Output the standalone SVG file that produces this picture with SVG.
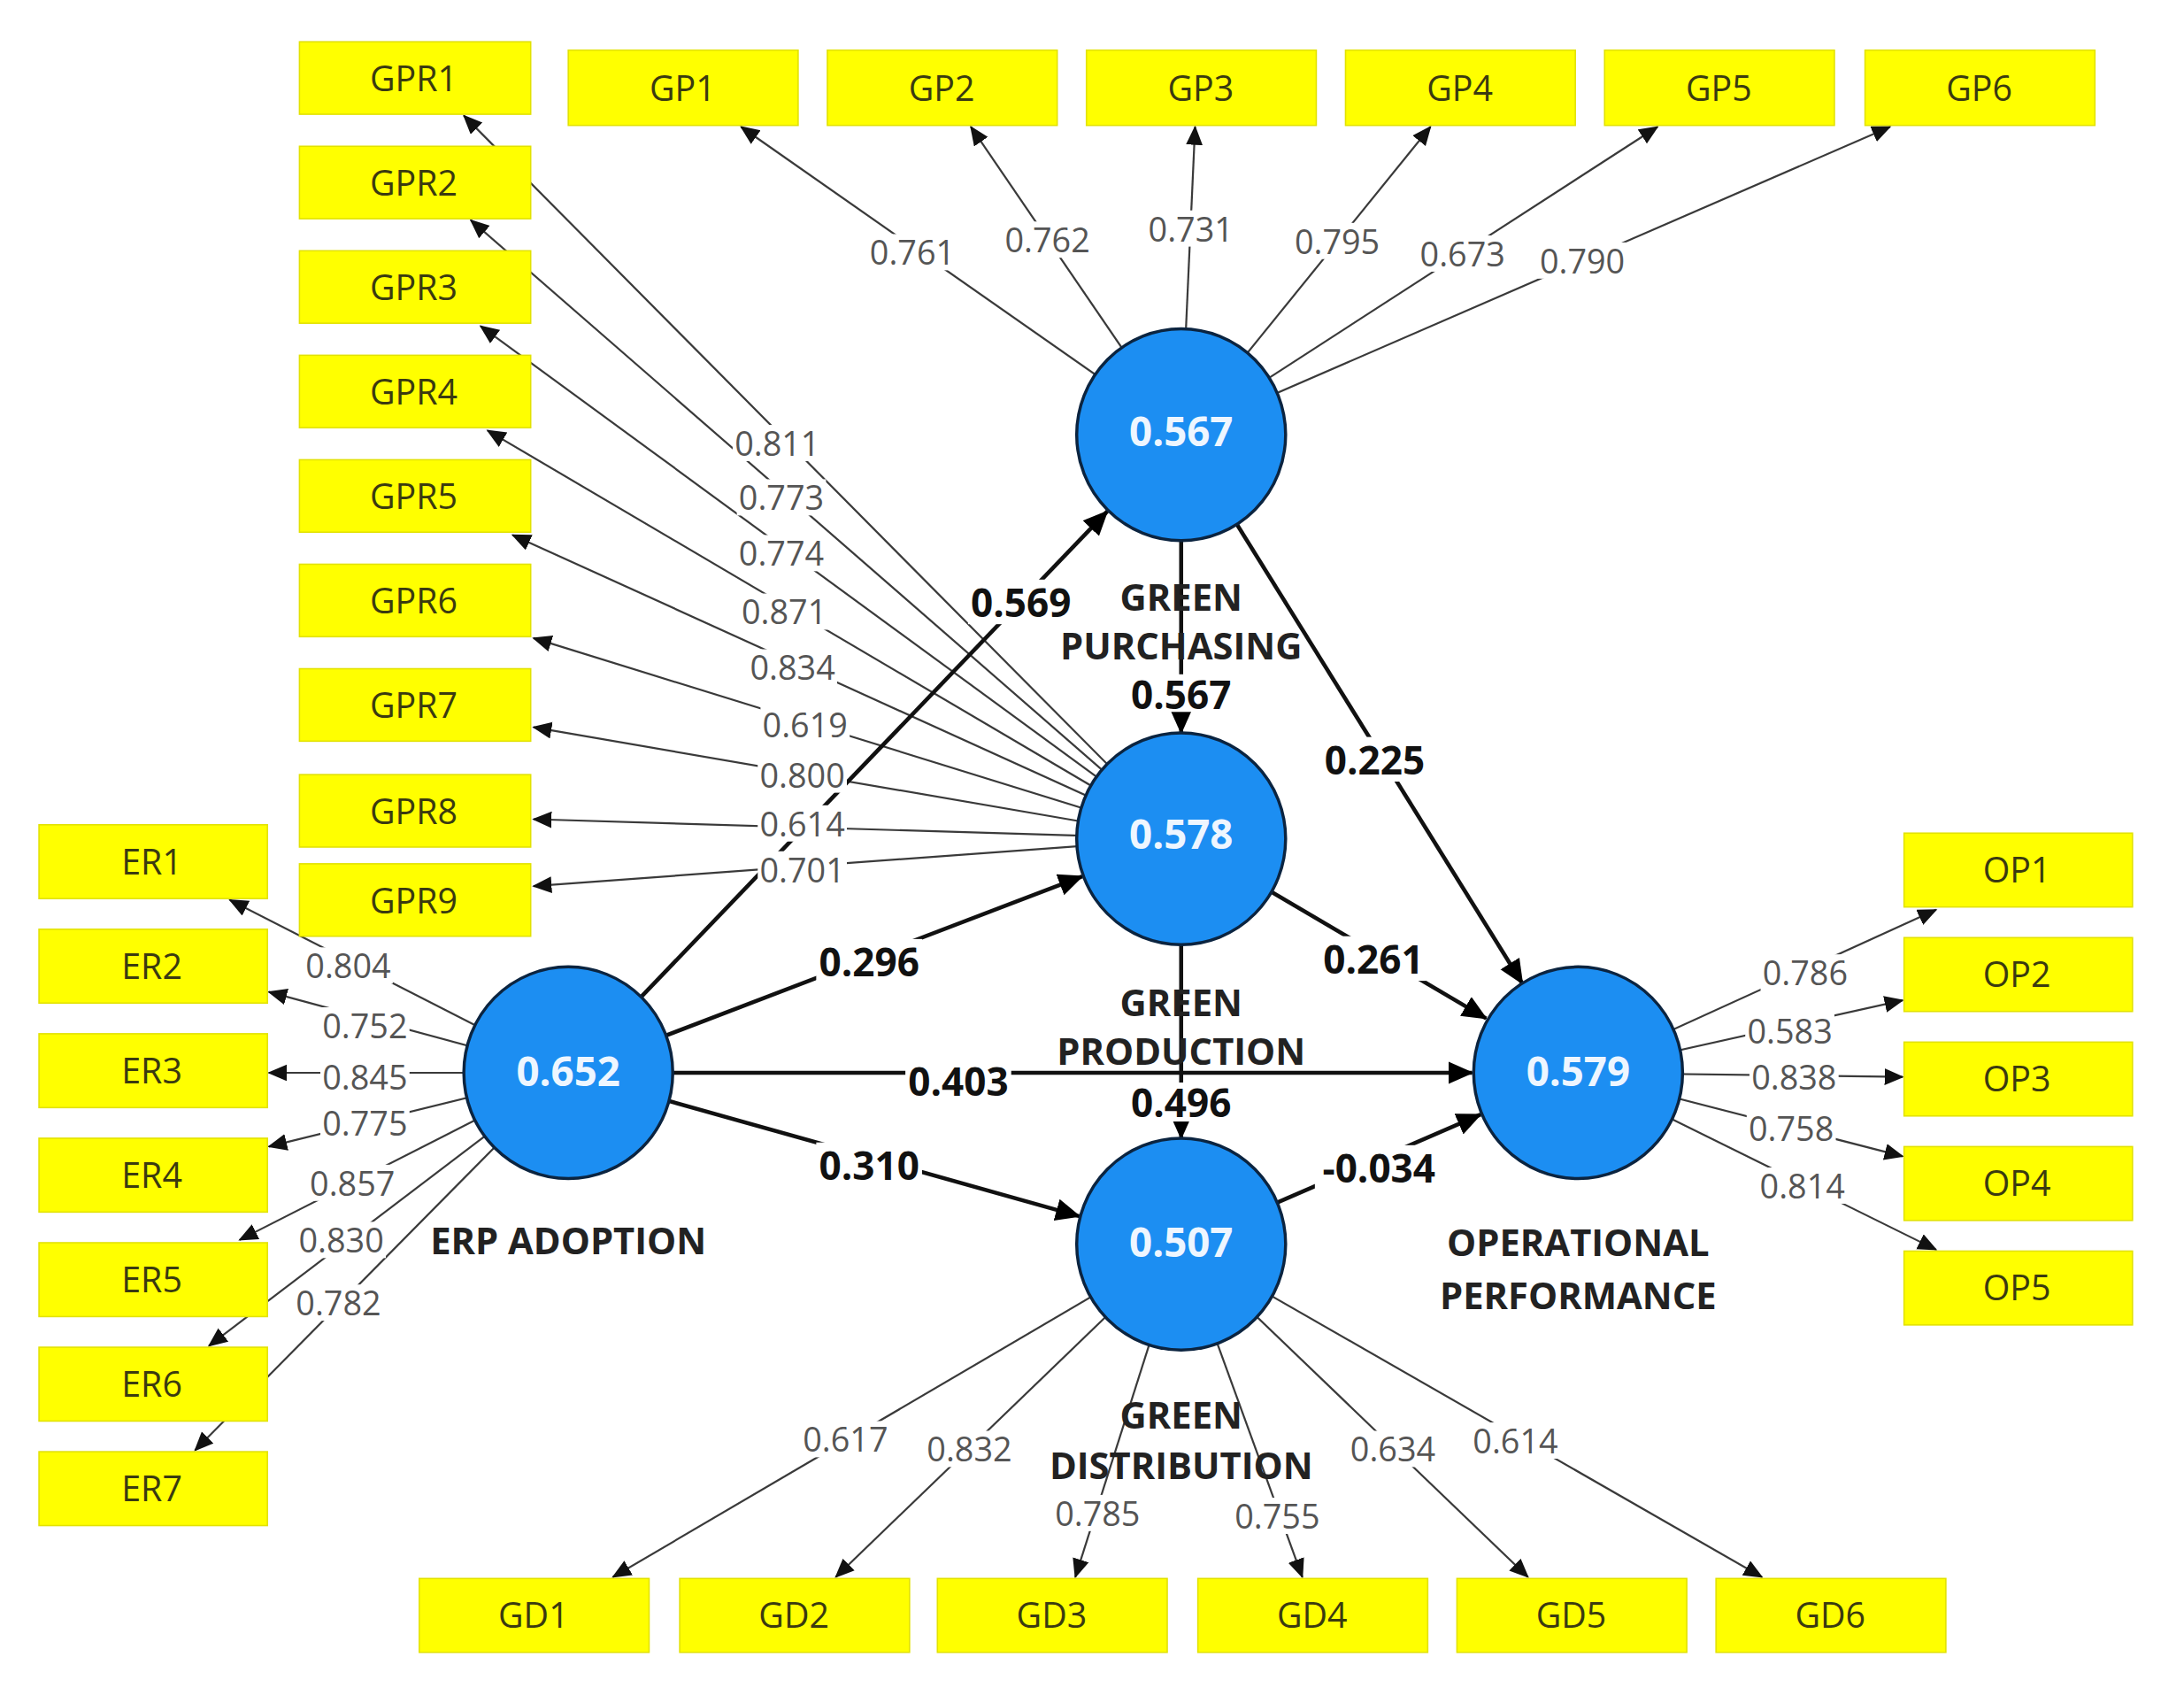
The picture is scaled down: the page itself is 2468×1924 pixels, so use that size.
<svg xmlns="http://www.w3.org/2000/svg" width="2468" height="1924" viewBox="0 0 2468 1924">
<defs>
<marker id="ah" markerUnits="userSpaceOnUse" markerWidth="15" markerHeight="13" refX="13" refY="6" orient="auto"><path d="M0,0 L14,6 L0,12 z" fill="#111"/></marker>
<marker id="ahb" markerUnits="userSpaceOnUse" markerWidth="19" markerHeight="17" refX="17" refY="8" orient="auto"><path d="M0,0 L18,8 L0,16 z" fill="#000"/></marker>
<style>
.box{fill:#FFFF00;stroke:#E2E200;stroke-width:1}
.blab{font-family:"Open Sans","Noto Sans",sans-serif;font-size:25px;fill:#3a3a10;text-anchor:middle;dominant-baseline:central}
.circ{fill:#1C8EF2;stroke:#0B2440;stroke-width:2.2}
.cval{font-family:"Open Sans","Noto Sans",sans-serif;font-size:29px;font-weight:bold;fill:#EEF6FF;text-anchor:middle;dominant-baseline:central}
.cname{font-family:"Open Sans","Noto Sans",sans-serif;font-size:26.5px;font-weight:bold;fill:#222;text-anchor:middle;dominant-baseline:central}
.ld{stroke:#3a3a3a;stroke-width:1.4;fill:none;marker-end:url(#ah)}
.pth{stroke:#111;stroke-width:2.9;fill:none;marker-end:url(#ahb)}
.lv{font-family:"Open Sans","Noto Sans",sans-serif;font-size:24px;fill:#555;text-anchor:middle;dominant-baseline:central}
.pv{font-family:"Open Sans","Noto Sans",sans-serif;font-size:28px;font-weight:bold;fill:#111;text-anchor:middle;dominant-baseline:central}
.bg{fill:#fff}
</style>
</defs>
<rect width="2468" height="1924" fill="#fff"/>
<g transform="scale(1.574)">
<g id="connectors">
<line class="ld" x1="848" y1="312" x2="532" y2="91"/>
<line class="ld" x1="848" y1="312" x2="697" y2="91"/>
<line class="ld" x1="848" y1="312" x2="858" y2="91"/>
<line class="ld" x1="848" y1="312" x2="1027" y2="91"/>
<line class="ld" x1="848" y1="312" x2="1190" y2="91"/>
<line class="ld" x1="848" y1="312" x2="1357" y2="91"/>
<line class="ld" x1="848" y1="602" x2="333" y2="83"/>
<line class="ld" x1="848" y1="602" x2="338" y2="158"/>
<line class="ld" x1="848" y1="602" x2="345" y2="234"/>
<line class="ld" x1="848" y1="602" x2="350" y2="309"/>
<line class="ld" x1="848" y1="602" x2="368" y2="384"/>
<line class="ld" x1="848" y1="602" x2="383" y2="458"/>
<line class="ld" x1="848" y1="602" x2="383" y2="522"/>
<line class="ld" x1="848" y1="602" x2="383" y2="588"/>
<line class="ld" x1="848" y1="602" x2="383" y2="636"/>
<line class="ld" x1="408" y1="770" x2="165" y2="646"/>
<line class="ld" x1="408" y1="770" x2="193" y2="712"/>
<line class="ld" x1="408" y1="770" x2="193" y2="770"/>
<line class="ld" x1="408" y1="770" x2="193" y2="823"/>
<line class="ld" x1="408" y1="770" x2="172" y2="890"/>
<line class="ld" x1="408" y1="770" x2="150" y2="966"/>
<line class="ld" x1="408" y1="770" x2="140" y2="1041"/>
<line class="ld" x1="1133" y1="770" x2="1390" y2="653"/>
<line class="ld" x1="1133" y1="770" x2="1366" y2="718"/>
<line class="ld" x1="1133" y1="770" x2="1366" y2="773"/>
<line class="ld" x1="1133" y1="770" x2="1366" y2="830"/>
<line class="ld" x1="1133" y1="770" x2="1390" y2="897"/>
<line class="ld" x1="848" y1="893" x2="440" y2="1132"/>
<line class="ld" x1="848" y1="893" x2="600" y2="1132"/>
<line class="ld" x1="848" y1="893" x2="772" y2="1132"/>
<line class="ld" x1="848" y1="893" x2="935" y2="1132"/>
<line class="ld" x1="848" y1="893" x2="1097" y2="1132"/>
<line class="ld" x1="848" y1="893" x2="1265" y2="1132"/>
<line class="pth" x1="408" y1="770" x2="795" y2="367"/>
<line class="pth" x1="408" y1="770" x2="777" y2="629"/>
<line class="pth" x1="408" y1="770" x2="1057" y2="770"/>
<line class="pth" x1="408" y1="770" x2="775" y2="873"/>
<line class="pth" x1="848" y1="312" x2="848" y2="526"/>
<line class="pth" x1="848" y1="602" x2="848" y2="817"/>
<line class="pth" x1="848" y1="312" x2="1093" y2="706"/>
<line class="pth" x1="848" y1="602" x2="1067" y2="731"/>
<line class="pth" x1="848" y1="893" x2="1063" y2="800"/>
</g>
<g id="loading-labels">
<rect class="bg" x="623" y="168" width="64" height="26"/><text class="lv" x="655" y="181">0.761</text>
<rect class="bg" x="720" y="159" width="64" height="26"/><text class="lv" x="752" y="172">0.762</text>
<rect class="bg" x="823" y="151" width="64" height="26"/><text class="lv" x="855" y="164">0.731</text>
<rect class="bg" x="928" y="160" width="64" height="26"/><text class="lv" x="960" y="173">0.795</text>
<rect class="bg" x="1018" y="169" width="64" height="26"/><text class="lv" x="1050" y="182">0.673</text>
<rect class="bg" x="1104" y="174" width="64" height="26"/><text class="lv" x="1136" y="187">0.790</text>
<rect class="bg" x="526" y="305" width="64" height="26"/><text class="lv" x="558" y="318">0.811</text>
<rect class="bg" x="529" y="344" width="64" height="26"/><text class="lv" x="561" y="357">0.773</text>
<rect class="bg" x="529" y="384" width="64" height="26"/><text class="lv" x="561" y="397">0.774</text>
<rect class="bg" x="531" y="426" width="64" height="26"/><text class="lv" x="563" y="439">0.871</text>
<rect class="bg" x="537" y="466" width="64" height="26"/><text class="lv" x="569" y="479">0.834</text>
<rect class="bg" x="546" y="507" width="64" height="26"/><text class="lv" x="578" y="520">0.619</text>
<rect class="bg" x="544" y="543" width="64" height="26"/><text class="lv" x="576" y="556">0.800</text>
<rect class="bg" x="544" y="578" width="64" height="26"/><text class="lv" x="576" y="591">0.614</text>
<rect class="bg" x="544" y="611" width="64" height="26"/><text class="lv" x="576" y="624">0.701</text>
<rect class="bg" x="218" y="680" width="64" height="26"/><text class="lv" x="250" y="693">0.804</text>
<rect class="bg" x="230" y="723" width="64" height="26"/><text class="lv" x="262" y="736">0.752</text>
<rect class="bg" x="230" y="760" width="64" height="26"/><text class="lv" x="262" y="773">0.845</text>
<rect class="bg" x="230" y="793" width="64" height="26"/><text class="lv" x="262" y="806">0.775</text>
<rect class="bg" x="221" y="836" width="64" height="26"/><text class="lv" x="253" y="849">0.857</text>
<rect class="bg" x="213" y="877" width="64" height="26"/><text class="lv" x="245" y="890">0.830</text>
<rect class="bg" x="211" y="922" width="64" height="26"/><text class="lv" x="243" y="935">0.782</text>
<rect class="bg" x="1264" y="685" width="64" height="26"/><text class="lv" x="1296" y="698">0.786</text>
<rect class="bg" x="1253" y="727" width="64" height="26"/><text class="lv" x="1285" y="740">0.583</text>
<rect class="bg" x="1256" y="760" width="64" height="26"/><text class="lv" x="1288" y="773">0.838</text>
<rect class="bg" x="1254" y="797" width="64" height="26"/><text class="lv" x="1286" y="810">0.758</text>
<rect class="bg" x="1262" y="838" width="64" height="26"/><text class="lv" x="1294" y="851">0.814</text>
<rect class="bg" x="575" y="1020" width="64" height="26"/><text class="lv" x="607" y="1033">0.617</text>
<rect class="bg" x="664" y="1027" width="64" height="26"/><text class="lv" x="696" y="1040">0.832</text>
<rect class="bg" x="756" y="1073" width="64" height="26"/><text class="lv" x="788" y="1086">0.785</text>
<rect class="bg" x="885" y="1075" width="64" height="26"/><text class="lv" x="917" y="1088">0.755</text>
<rect class="bg" x="968" y="1027" width="64" height="26"/><text class="lv" x="1000" y="1040">0.634</text>
<rect class="bg" x="1056" y="1021" width="64" height="26"/><text class="lv" x="1088" y="1034">0.614</text>
</g>
<g id="path-labels">
<rect class="bg" x="695" y="416" width="76" height="32"/><text class="pv" x="733" y="432">0.569</text>
<rect class="bg" x="586" y="674" width="76" height="32"/><text class="pv" x="624" y="690">0.296</text>
<rect class="bg" x="650" y="760" width="76" height="32"/><text class="pv" x="688" y="776">0.403</text>
<rect class="bg" x="586" y="820" width="76" height="32"/><text class="pv" x="624" y="836">0.310</text>
<rect class="bg" x="949" y="529" width="76" height="32"/><text class="pv" x="987" y="545">0.225</text>
<rect class="bg" x="948" y="672" width="76" height="32"/><text class="pv" x="986" y="688">0.261</text>
<rect class="bg" x="944" y="822" width="92" height="32"/><text class="pv" x="990" y="838">-0.034</text>
<rect class="bg" x="810" y="484" width="76" height="27"/><text class="pv" x="848" y="498">0.567</text>
<rect class="bg" x="810" y="777" width="76" height="28"/><text class="pv" x="848" y="791">0.496</text>
</g>
<g id="GreenPurchasing"><ellipse class="circ" cx="848" cy="312" rx="75" ry="76"/><text class="cval" x="848" y="309">0.567</text><text class="cname" x="848" y="428">GREEN</text><text class="cname" x="848" y="463">PURCHASING</text></g>
<g id="GreenProduction"><ellipse class="circ" cx="848" cy="602" rx="75" ry="76"/><text class="cval" x="848" y="598">0.578</text><text class="cname" x="848" y="719">GREEN</text><text class="cname" x="848" y="754">PRODUCTION</text></g>
<g id="ERPAdoption"><ellipse class="circ" cx="408" cy="770" rx="75" ry="76"/><text class="cval" x="408" y="768">0.652</text><text class="cname" x="408" y="890">ERP ADOPTION</text></g>
<g id="GreenDistribution"><ellipse class="circ" cx="848" cy="893" rx="75" ry="76"/><text class="cval" x="848" y="891">0.507</text><text class="cname" x="848" y="1015">GREEN</text><text class="cname" x="848" y="1051">DISTRIBUTION</text></g>
<g id="OperationalPerformance"><ellipse class="circ" cx="1133" cy="770" rx="75" ry="76"/><text class="cval" x="1133" y="768">0.579</text><text class="cname" x="1133" y="891">OPERATIONAL</text><text class="cname" x="1133" y="929">PERFORMANCE</text></g>
<g id="GP1"><rect class="box" x="408" y="36" width="165" height="54"/><text class="blab" x="490" y="63">GP1</text></g>
<g id="GP2"><rect class="box" x="594" y="36" width="165" height="54"/><text class="blab" x="676" y="63">GP2</text></g>
<g id="GP3"><rect class="box" x="780" y="36" width="165" height="54"/><text class="blab" x="862" y="63">GP3</text></g>
<g id="GP4"><rect class="box" x="966" y="36" width="165" height="54"/><text class="blab" x="1048" y="63">GP4</text></g>
<g id="GP5"><rect class="box" x="1152" y="36" width="165" height="54"/><text class="blab" x="1234" y="63">GP5</text></g>
<g id="GP6"><rect class="box" x="1339" y="36" width="165" height="54"/><text class="blab" x="1421" y="63">GP6</text></g>
<g id="GPR1"><rect class="box" x="215" y="30" width="166" height="52"/><text class="blab" x="297" y="56">GPR1</text></g>
<g id="GPR2"><rect class="box" x="215" y="105" width="166" height="52"/><text class="blab" x="297" y="131">GPR2</text></g>
<g id="GPR3"><rect class="box" x="215" y="180" width="166" height="52"/><text class="blab" x="297" y="206">GPR3</text></g>
<g id="GPR4"><rect class="box" x="215" y="255" width="166" height="52"/><text class="blab" x="297" y="281">GPR4</text></g>
<g id="GPR5"><rect class="box" x="215" y="330" width="166" height="52"/><text class="blab" x="297" y="356">GPR5</text></g>
<g id="GPR6"><rect class="box" x="215" y="405" width="166" height="52"/><text class="blab" x="297" y="431">GPR6</text></g>
<g id="GPR7"><rect class="box" x="215" y="480" width="166" height="52"/><text class="blab" x="297" y="506">GPR7</text></g>
<g id="GPR8"><rect class="box" x="215" y="556" width="166" height="52"/><text class="blab" x="297" y="582">GPR8</text></g>
<g id="GPR9"><rect class="box" x="215" y="620" width="166" height="52"/><text class="blab" x="297" y="646">GPR9</text></g>
<g id="ER1"><rect class="box" x="28" y="592" width="164" height="53"/><text class="blab" x="109" y="618">ER1</text></g>
<g id="ER2"><rect class="box" x="28" y="667" width="164" height="53"/><text class="blab" x="109" y="693">ER2</text></g>
<g id="ER3"><rect class="box" x="28" y="742" width="164" height="53"/><text class="blab" x="109" y="768">ER3</text></g>
<g id="ER4"><rect class="box" x="28" y="817" width="164" height="53"/><text class="blab" x="109" y="843">ER4</text></g>
<g id="ER5"><rect class="box" x="28" y="892" width="164" height="53"/><text class="blab" x="109" y="918">ER5</text></g>
<g id="ER6"><rect class="box" x="28" y="967" width="164" height="53"/><text class="blab" x="109" y="993">ER6</text></g>
<g id="ER7"><rect class="box" x="28" y="1042" width="164" height="53"/><text class="blab" x="109" y="1068">ER7</text></g>
<g id="OP1"><rect class="box" x="1367" y="598" width="164" height="53"/><text class="blab" x="1448" y="624">OP1</text></g>
<g id="OP2"><rect class="box" x="1367" y="673" width="164" height="53"/><text class="blab" x="1448" y="699">OP2</text></g>
<g id="OP3"><rect class="box" x="1367" y="748" width="164" height="53"/><text class="blab" x="1448" y="774">OP3</text></g>
<g id="OP4"><rect class="box" x="1367" y="823" width="164" height="53"/><text class="blab" x="1448" y="849">OP4</text></g>
<g id="OP5"><rect class="box" x="1367" y="898" width="164" height="53"/><text class="blab" x="1448" y="924">OP5</text></g>
<g id="GD1"><rect class="box" x="301" y="1133" width="165" height="53"/><text class="blab" x="383" y="1159">GD1</text></g>
<g id="GD2"><rect class="box" x="488" y="1133" width="165" height="53"/><text class="blab" x="570" y="1159">GD2</text></g>
<g id="GD3"><rect class="box" x="673" y="1133" width="165" height="53"/><text class="blab" x="755" y="1159">GD3</text></g>
<g id="GD4"><rect class="box" x="860" y="1133" width="165" height="53"/><text class="blab" x="942" y="1159">GD4</text></g>
<g id="GD5"><rect class="box" x="1046" y="1133" width="165" height="53"/><text class="blab" x="1128" y="1159">GD5</text></g>
<g id="GD6"><rect class="box" x="1232" y="1133" width="165" height="53"/><text class="blab" x="1314" y="1159">GD6</text></g>
</g>
</svg>
